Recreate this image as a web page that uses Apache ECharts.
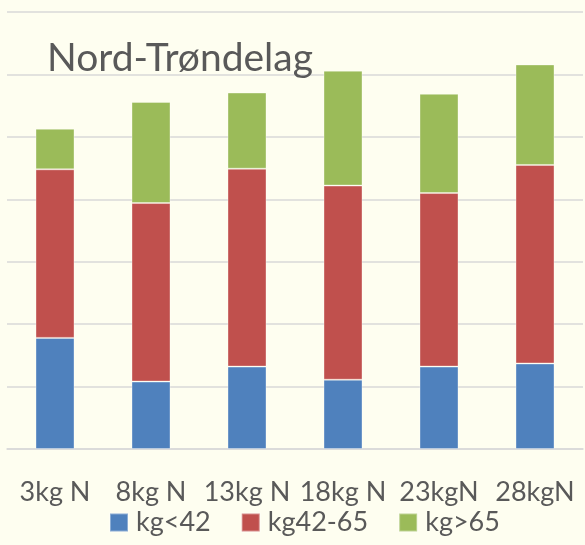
<!DOCTYPE html>
<html>
<head>
<meta charset="utf-8">
<script src="https://cdn.jsdelivr.net/npm/echarts@6/dist/echarts.min.js"></script>
<style>
  html, body { margin: 0; padding: 0; background: #FEFEF0; }
  #chart { width: 585px; height: 545px; }
</style>
</head>
<body>
<div id="chart"></div>
<script>
// kategorier og verdier lest av bildet (enhet = gitterintervall x 100)
var categories = ['3kg N', '8kg N', '13kg N', '18kg N', '23kgN', '28kgN'];
var seriesNames = ['kg<42', 'kg42-65', 'kg>65'];
var under42 = [178, 108, 132, 111, 132, 137];
var mid42to65 = [270, 286, 317, 311, 278, 318];
var over65 = [65, 162, 122, 184, 159, 161];
var colors = ['#4F81BD', '#C0504D', '#9BBB59'];

var chart = echarts.init(document.getElementById('chart'), null, { renderer: 'canvas' });
var font = 'Lato, "Open Sans", sans-serif';

function barSeries(name, values, color) {
    return {
        name: name,
        type: 'bar',
        stack: 'total',
        barWidth: 39,
        data: values,
        itemStyle: {
            color: color,
            borderColor: 'rgba(255,255,255,0.35)',
            borderWidth: 1
        }
    };
}

var option = {
    backgroundColor: '#FEFEF0',
    animation: false,
    title: {
        text: 'Nord-Trøndelag',
        left: 42,
        top: 34,
        textStyle: { fontFamily: font, fontSize: 39, fontWeight: 'normal', color: '#595959' }
    },
    grid: { left: 7, right: 2, top: 12, bottom: 96 },
    legend: {
        data: seriesNames,
        bottom: 4,
        left: 104,
        icon: 'rect',
        itemWidth: 18,
        itemHeight: 18,
        itemGap: 30,
        textStyle: { fontFamily: font, fontSize: 27, color: '#595959', padding: [0, 0, 0, 3] }
    },
    xAxis: {
        type: 'category',
        data: categories,
        axisLine: { lineStyle: { color: '#D9D9D9', width: 1.5 } },
        axisTick: { show: false },
        axisLabel: { fontFamily: font, fontSize: 27, color: '#595959', margin: 30, interval: 0, hideOverlap: false }
    },
    yAxis: {
        type: 'value',
        min: 0,
        max: 700,
        interval: 100,
        axisLabel: { show: false },
        axisLine: { show: false },
        axisTick: { show: false },
        splitLine: { lineStyle: { color: '#D9D9D9', width: 1.5 } }
    },
    series: [
        barSeries(seriesNames[0], under42, colors[0]),
        barSeries(seriesNames[1], mid42to65, colors[1]),
        barSeries(seriesNames[2], over65, colors[2])
    ]
};

chart.setOption(option);
</script>
</body>
</html>
